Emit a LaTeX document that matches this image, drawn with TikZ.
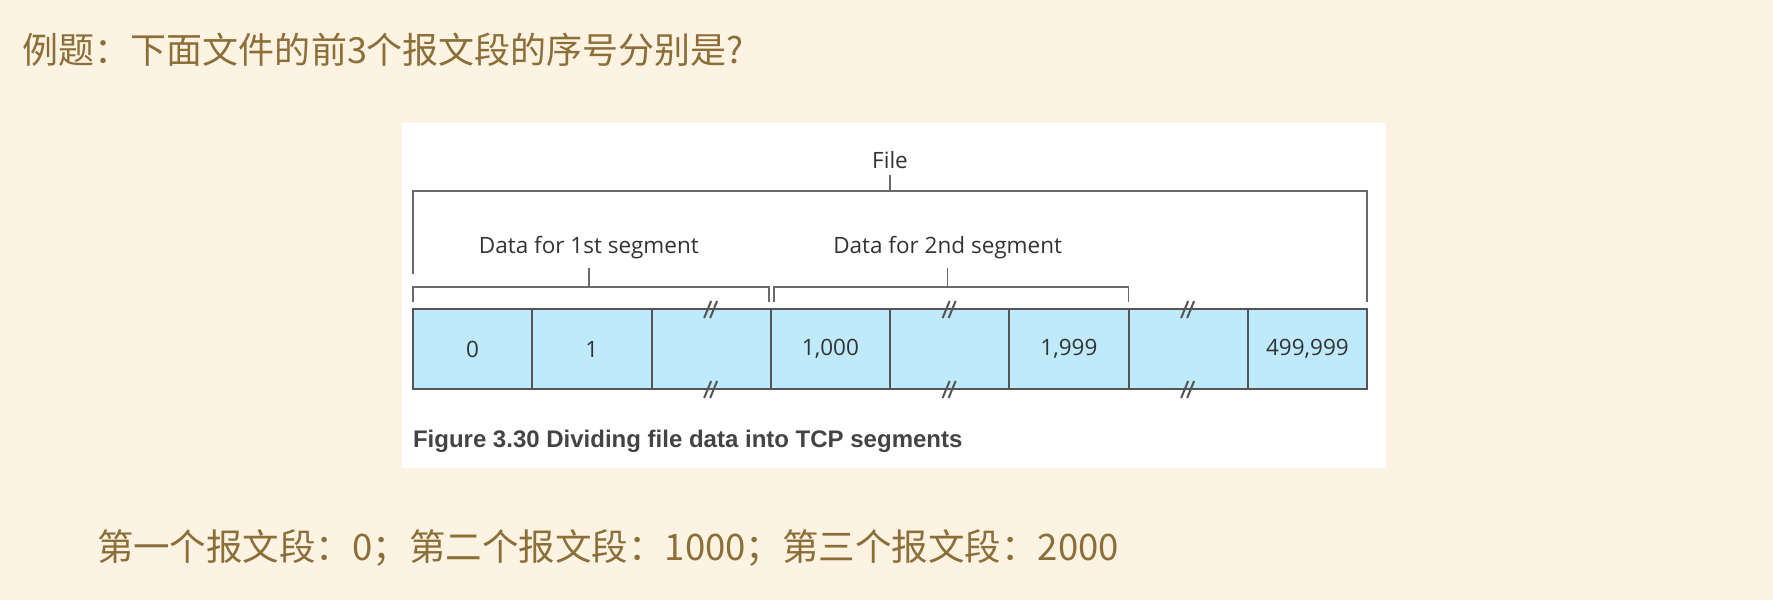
\documentclass[tikz,border=0pt]{standalone}
\usepackage{fontspec}
\usepackage{tikz}
\usetikzlibrary{positioning}
\newfontfamily\cjkfont{Noto Sans CJK SC}
\newfontfamily\lblfont{Open Sans}
\newfontfamily\capfont{Liberation Sans}
\definecolor{paper}{RGB}{252,243,226}
\definecolor{inkbrown}{RGB}{140,110,56}
\definecolor{cellblue}{RGB}{190,234,252}
\definecolor{rulegray}{RGB}{85,85,85}
\definecolor{bracketgray}{RGB}{105,105,105}
\definecolor{textgray}{RGB}{51,51,51}
\definecolor{capgray}{RGB}{68,68,68}

\begin{document}
\begin{tikzpicture}[
      x=0.5pt, y=-0.5pt,
      every node/.style={inner sep=0pt, outer sep=0pt},
      question/.style={font=\cjkfont\fontsize{18}{22}\selectfont, text=inkbrown},
      cell/.style={
        rectangle, draw=rulegray, fill=cellblue, line width=1pt,
        minimum width=59.625pt, minimum height=40pt,
        font=\lblfont\fontsize{11.25}{13}\selectfont, text=textgray
      },
      lbl/.style={
        font=\lblfont\fontsize{11.25}{13}\selectfont, text=textgray,
        text height=8pt, text depth=0pt, inner ysep=3.5pt
      },
      seglbl/.style={lbl, inner ysep=7.5pt},
      figlabel/.style={font=\capfont\bfseries\fontsize{12}{14}\selectfont, text=capgray},
      brk/.style={draw=bracketgray, line width=0.75pt},
      cutmark/.pic={
        \draw[rulegray, line width=1pt] (-7,9) -- (0,-8) (-1,9) -- (6,-8);
      }
    ]
      \useasboundingbox (0,0) rectangle (1773,600);
      \fill[paper] (0,0) rectangle (1773,600);
      \fill[white] (402,123) rectangle (1386,468);

      \node[question, anchor=base west] (quest) at (23,63) {例题：下面文件的前3个报文段的序号分别是?};
      \node[question, font=\cjkfont\fontsize{18.25}{22}\selectfont, anchor=base west] (answer) at (97,560)
        {第一个报文段：0；第二个报文段：1000；第三个报文段：2000};

      \node[cell, anchor=north west] (b1) at (413,309) {0};
      \node[cell, right=0pt of b1] (b2) {1};
      \node[cell, right=0pt of b2] (b3) {};
      \node[cell, right=0pt of b3] (b4) {1,000};
      \node[cell, right=0pt of b4] (b5) {};
      \node[cell, right=0pt of b5] (b6) {1,999};
      \node[cell, right=0pt of b6] (b7) {};
      \node[cell, right=0pt of b7] (b8) {499,999};

      \node[lbl, above=67pt of b4.north east] (file) {File};
      \node[seglbl, above=20.5pt of b2, xshift=-1.5pt] (seg1) {Data for 1st segment};
      \node[seglbl, above=20.5pt of b5, xshift=-1pt] (seg2) {Data for 2nd segment};

      \draw[brk] ([yshift=17.5pt]b1.north west) -- ([yshift=59pt]b1.north west)
        -- ([yshift=59pt]b8.north east) -- ([yshift=3.5pt]b8.north east);
      \draw[brk] (file.south) -- ++(0,16);
      \draw[brk] ([yshift=3.5pt]b1.north west) -- ([yshift=11pt]b1.north west)
        -- ([xshift=-1pt,yshift=11pt]b3.north east) -- ([xshift=-1pt,yshift=3.5pt]b3.north east);
      \draw[brk] (seg1.south) -- ++(0,19);
      \draw[brk] ([xshift=1.5pt,yshift=3.5pt]b4.north west) -- ([xshift=1.5pt,yshift=11pt]b4.north west)
        -- ([yshift=11pt]b6.north east) -- ([yshift=3.5pt]b6.north east);
      \draw[brk] (seg2.south) -- ++(0,19);

      \foreach \c in {b3,b5,b7} {
        \pic at (\c.north) {cutmark};
        \pic at (\c.south) {cutmark};
      }

      \node[figlabel, anchor=base west] (figcap) at ([yshift=-29pt]b1.south west)
        {Figure 3.30 Dividing file data into TCP segments};
    \end{tikzpicture}
\end{document}
